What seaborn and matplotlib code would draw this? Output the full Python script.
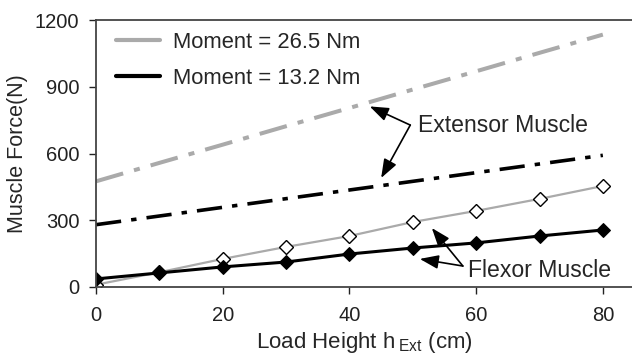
import numpy as np
import pandas as pd
import matplotlib
matplotlib.use("Agg")
import matplotlib.pyplot as plt
import seaborn as sns

# load height (cm)
height = [0, 10, 20, 30, 40, 50, 60, 70, 80]

# muscle forces (N)
ext_high = [475, 558, 640, 723, 805, 888, 970, 1053, 1135]   # extensor, 26.5 Nm
ext_low = [280, 319, 358, 397, 436, 475, 514, 553, 592]      # extensor, 13.2 Nm
flex_high = [10, 66, 126, 180, 229, 292, 342, 396, 454]      # flexor, 26.5 Nm
flex_low = [36, 63, 90, 112, 148, 175, 198, 229, 256]        # flexor, 13.2 Nm

legend_labels = ['Moment = 26.5 Nm', 'Moment = 13.2 Nm']
y_ticks = [0, 300, 600, 900, 1200]
x_ticks = [0, 20, 40, 60, 80]

sns.set_theme(style='white')
plt.rcParams['font.family'] = ['Liberation Sans', 'DejaVu Sans']
plt.rcParams['mathtext.fontset'] = 'custom'
plt.rcParams['mathtext.rm'] = 'Liberation Sans'

df = pd.DataFrame({'h': height, 'ext_high': ext_high, 'ext_low': ext_low,
                   'flex_high': flex_high, 'flex_low': flex_low})

gray = '#aaaaaa'
dashdot = (0, (7, 2.8, 1.5, 2.8))

fig = plt.figure(figsize=(6.32, 3.6), dpi=100)
ax = fig.add_axes([0.152, 0.203, 0.848, 0.741])

sns.lineplot(data=df, x='h', y='ext_high', color=gray, lw=2.9, linestyle=dashdot, ax=ax)
sns.lineplot(data=df, x='h', y='ext_low', color='black', lw=2.6, linestyle=dashdot, ax=ax)
sns.lineplot(data=df, x='h', y='flex_high', color=gray, lw=1.6, marker='D', markersize=7.5,
             markerfacecolor='white', markeredgecolor='black', markeredgewidth=1.0, ax=ax)
sns.lineplot(data=df, x='h', y='flex_low', color='black', lw=2.2, marker='D', markersize=7.5,
             markerfacecolor='black', markeredgecolor='black', ax=ax)

# legend with plain solid handles
h1, = ax.plot([], [], color=gray, lw=3)
h2, = ax.plot([], [], color='black', lw=3)
ax.legend([h1, h2], legend_labels, loc='upper left', frameon=False, fontsize=15.8,
          handlelength=2.0, handletextpad=0.6, labelspacing=0.68,
          bbox_to_anchor=(0.0, 1.03))

arrow = dict(arrowstyle='-|>,head_length=0.95,head_width=0.35', color='black', lw=1.2,
             shrinkA=0, shrinkB=0, mutation_scale=12)
ax.text(50.8, 728, 'Extensor Muscle', fontsize=16.6, va='center', ha='left')
ax.annotate('', xy=(43.2, 812), xytext=(49.6, 728), arrowprops=arrow)
ax.annotate('', xy=(45, 490), xytext=(49.6, 728), arrowprops=arrow)
ax.text(58.7, 76, 'Flexor Muscle', fontsize=16.6, va='center', ha='left')
ax.annotate('', xy=(53, 265), xytext=(57.9, 94), arrowprops=arrow)
ax.annotate('', xy=(51.1, 126), xytext=(57.9, 94), arrowprops=arrow)

ax.set_xlim(0, 84.6)
ax.set_ylim(0, 1200)
ax.set_xticks(x_ticks)
ax.set_yticks(y_ticks)
ax.set_xlabel('Load Height h$\\,_{\\mathrm{Ext}}$ (cm)', fontsize=16, labelpad=3)
ax.set_ylabel('Muscle Force(N)', fontsize=15.5, labelpad=5)
ax.tick_params(axis='both', labelsize=14.5, colors='#222222', length=5, width=1, direction='out',
               bottom=True, left=True)
ax.tick_params(axis='x', pad=9)
ax.tick_params(axis='y', pad=7)
for s in ['left', 'bottom', 'top']:
    ax.spines[s].set_color('#444444')
    ax.spines[s].set_linewidth(1.3)
ax.spines['right'].set_visible(False)

fig.savefig('out.png', dpi=100)
